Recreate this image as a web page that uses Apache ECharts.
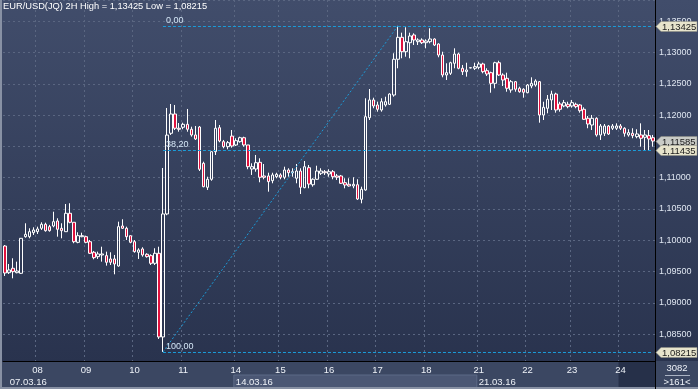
<!DOCTYPE html>
<html><head><meta charset="utf-8">
<script src="https://cdn.jsdelivr.net/npm/echarts@6/dist/echarts.min.js"></script>
<style>html,body{margin:0;padding:0;background:#36425e}#c{width:698px;height:389px}</style>
</head><body><div id="c"></div>
<script>
const chartTitle = 'EUR/USD(JQ) 2H High = 1,13425 Low = 1,08215';
const dayLabels = ['07','08','09','10','11','14','15','16','17','18','21','22','23','24'];
const dayStarts = [0,8,20,32,44,57,68,80,92,104,117,129,140,152];
const weekLabels = ['07.03.16','14.03.16','21.03.16'];
const weekStarts = [0,57,117];
const totalBars = '3082';

const opens = [1.09908,1.09482,1.09552,1.09482,1.09472,1.10057,1.10057,1.10121,1.10137,1.10191,
1.10255,1.10217,1.10228,1.10308,1.10191,1.10137,1.10431,1.10287,1.09967,1.10057,
1.10057,1.09977,1.09808,1.09738,1.09765,1.09754,1.09701,1.09701,1.09589,1.10228,
1.10191,1.10073,1.09977,1.09808,1.09861,1.09776,1.09754,1.09632,1.09792,1.08455,
1.10420,1.11709,1.12017,1.11789,1.11805,1.11852,1.11773,1.11682,1.11809,1.11229,
1.10846,1.10974,1.11415,1.11798,1.11575,1.11495,1.11664,1.11522,1.11575,1.11638,
1.11522,1.11138,1.11138,1.11245,1.11027,1.11027,1.10952,1.11015,1.11043,1.11006,
1.11122,1.11079,1.10990,1.11106,1.10840,1.11159,1.10887,1.10974,1.11070,1.11095,
1.11059,1.11095,1.11027,1.11027,1.10920,1.10894,1.10867,1.10887,1.10654,1.10803,
1.11958,1.12241,1.12161,1.12081,1.12161,1.12172,1.12320,1.12891,1.13242,1.13012,
1.13156,1.13279,1.13172,1.13199,1.13156,1.13172,1.13215,1.13135,1.12959,1.12640,
1.12667,1.12827,1.12975,1.12747,1.12693,1.12752,1.12747,1.12763,1.12816,1.12709,
1.12677,1.12507,1.12836,1.12640,1.12587,1.12401,1.12533,1.12428,1.12412,1.12357,
1.12464,1.12480,1.12533,1.12001,1.12108,1.12241,1.12336,1.12177,1.12145,1.12172,
1.12145,1.12172,1.12161,1.12092,1.11948,1.11841,1.11948,1.11682,1.11709,1.11825,
1.11789,1.11789,1.11825,1.11789,1.11682,1.11709,1.11655,1.11682,1.11645,1.11671,
1.11638];
const closes = [1.09477,1.09525,1.09498,1.09509,1.10031,1.10095,1.10137,1.10164,1.10180,1.10255,
1.10153,1.10153,1.10297,1.10175,1.10153,1.10431,1.10287,1.09977,1.10073,1.10073,
1.09967,1.09792,1.09722,1.09781,1.09781,1.09648,1.09648,1.09621,1.10217,1.10191,
1.10057,1.09967,1.09818,1.09845,1.09765,1.09738,1.09632,1.09792,1.08455,1.10420,
1.11680,1.12017,1.11789,1.11773,1.11852,1.11773,1.11682,1.11618,1.11134,1.10856,
1.10974,1.11415,1.11789,1.11586,1.11495,1.11559,1.11506,1.11591,1.11638,1.11522,
1.11175,1.11175,1.11239,1.11006,1.11006,1.10936,1.11043,1.11054,1.11006,1.11122,
1.11079,1.11095,1.11106,1.10846,1.11175,1.10898,1.10974,1.11106,1.11106,1.11079,
1.11095,1.11015,1.11006,1.10910,1.10883,1.10867,1.10894,1.10659,1.10814,1.11974,
1.12241,1.12145,1.12092,1.12213,1.12213,1.12336,1.12891,1.13242,1.13012,1.13172,
1.13263,1.13199,1.13199,1.13156,1.13183,1.13215,1.13119,1.12959,1.12640,1.12677,
1.12836,1.12975,1.12747,1.12693,1.12720,1.12757,1.12773,1.12816,1.12693,1.12656,
1.12507,1.12836,1.12640,1.12560,1.12428,1.12533,1.12412,1.12373,1.12364,1.12480,
1.12507,1.12544,1.12001,1.12124,1.12252,1.12336,1.12081,1.12092,1.12198,1.12134,
1.12198,1.12134,1.12070,1.11932,1.11857,1.11948,1.11682,1.11825,1.11825,1.11697,
1.11825,1.11825,1.11789,1.11709,1.11719,1.11671,1.11698,1.11629,1.11682,1.11618,
1.11585];
const lows = [1.09429,1.09461,1.09392,1.09472,1.09461,1.10041,1.10031,1.10084,1.10100,1.10164,
1.10137,1.10137,1.10207,1.10057,1.10031,1.10137,1.10271,1.09952,1.09952,1.10048,
1.09952,1.09781,1.09696,1.09701,1.09658,1.09594,1.09605,1.09456,1.09578,1.10180,
1.10004,1.09952,1.09802,1.09701,1.09738,1.09722,1.09605,1.09605,1.08423,1.08215,
1.10400,1.11682,1.11761,1.11734,1.11773,1.11734,1.11655,1.11602,1.11106,1.10846,
1.10803,1.10951,1.11362,1.11565,1.11469,1.11453,1.11479,1.11506,1.11559,1.11495,
1.11134,1.11043,1.11095,1.10926,1.10974,1.10776,1.10910,1.10990,1.10974,1.10974,
1.11015,1.11015,1.10910,1.10739,1.10830,1.10830,1.10856,1.10963,1.11043,1.11043,
1.11015,1.10974,1.10963,1.10899,1.10830,1.10856,1.10830,1.10643,1.10590,1.10792,
1.11921,1.12108,1.12054,1.12054,1.12134,1.12161,1.12293,1.12747,1.12907,1.12932,
1.12907,1.13119,1.13119,1.13135,1.13066,1.13146,1.13103,1.12923,1.12603,1.12560,
1.12640,1.12747,1.12731,1.12640,1.12613,1.12747,1.12720,1.12731,1.12667,1.12624,
1.12357,1.12427,1.12624,1.12464,1.12373,1.12357,1.12373,1.12357,1.12277,1.12348,
1.12428,1.12453,1.11878,1.11921,1.12028,1.12081,1.12038,1.12054,1.12124,1.12108,
1.12118,1.12108,1.12038,1.11921,1.11789,1.11761,1.11655,1.11602,1.11665,1.11682,
1.11761,1.11761,1.11761,1.11655,1.11655,1.11629,1.11629,1.11495,1.11442,1.11431,
1.11495];
const highs = [1.09924,1.09621,1.09712,1.09658,1.10036,1.10271,1.10191,1.10207,1.10217,1.10287,
1.10281,1.10246,1.10456,1.10351,1.10271,1.10579,1.10591,1.10287,1.10127,1.10121,
1.10073,1.10004,1.09829,1.09818,1.09897,1.09818,1.09808,1.09765,1.10297,1.10335,
1.10217,1.10073,1.10004,1.09872,1.09888,1.09792,1.09776,1.09872,1.09897,1.11154,
1.12113,1.12177,1.12161,1.11873,1.11878,1.12097,1.11814,1.11825,1.11825,1.11255,
1.11015,1.11415,1.11921,1.11841,1.11602,1.11586,1.11761,1.11629,1.11654,1.11654,
1.11522,1.11229,1.11362,1.11309,1.11218,1.11079,1.11079,1.11079,1.11070,1.11175,
1.11150,1.11150,1.11218,1.11150,1.11266,1.11202,1.10990,1.11191,1.11150,1.11122,
1.11134,1.11122,1.11059,1.11043,1.10990,1.10990,1.11006,1.10974,1.10856,1.12268,
1.12416,1.12277,1.12214,1.12268,1.12293,1.12348,1.12987,1.13425,1.13316,1.13402,
1.13316,1.13306,1.13226,1.13226,1.13210,1.13386,1.13226,1.13146,1.13012,1.12827,
1.12852,1.13066,1.12996,1.12800,1.12836,1.12762,1.12836,1.12852,1.12836,1.12747,
1.12693,1.12852,1.12868,1.12667,1.12677,1.12560,1.12544,1.12453,1.12428,1.12496,
1.12603,1.12571,1.12544,1.12213,1.12320,1.12389,1.12357,1.12213,1.12241,1.12213,
1.12241,1.12198,1.12177,1.12124,1.11985,1.12001,1.11964,1.11857,1.11857,1.11841,
1.11857,1.11868,1.11857,1.11805,1.11773,1.11789,1.11773,1.11868,1.11761,1.11761,
1.11682];

// Fibonacci retracement drawn on the chart
const fibLevels = ['0,00','38,20','100,00'];
const fibValues = [1.13425, 1.11435, 1.08215];
const swingLowIdx = 39, swingHighIdx = 97;
const priceTags = [1.13425, 1.11585, 1.11435, 1.08215];
const priceTagColors = ['#e7e4cc', '#c9cbc6', '#e7e4cc', '#e7e4cc'];

const categories = opens.map((_, i) => {
  let d = 0;
  for (let k = 0; k < dayStarts.length; k++) if (i >= dayStarts[k]) d = k;
  return dayLabels[d];
});
const candles = opens.map((o, i) => [o, closes[i], lows[i], highs[i]]);
const fmt = v => v.toFixed(5).replace('.', ',');
const FONT = '"Liberation Sans", Arial, sans-serif';
const CYAN = '#1b9bd8';

const markData = [];
fibValues.forEach((v, k) => {
  markData.push([
    {coord: [swingLowIdx, v], lineStyle: {color: CYAN, width: 1, type: [3, 2]},
     label: {show: true, position: 'insideStartTop', formatter: fibLevels[k], color: '#d4e6f6',
             fontSize: 9, fontFamily: FONT, distance: [3, 1]}},
    {coord: [opens.length - 1, v]}
  ]);
});
markData.push([
  {coord: [swingLowIdx, fibValues[2]], lineStyle: {color: CYAN, width: 1, type: [2, 2]}, label: {show: false}},
  {coord: [swingHighIdx, fibValues[0]]}
]);

const chart = echarts.init(document.getElementById('c'), null, {renderer: 'canvas'});
const option = {
  animation: false,
  backgroundColor: new echarts.graphic.LinearGradient(0, 0, 0, 1, [
    {offset: 0, color: '#414d6b'}, {offset: 0.93, color: '#29334e'}, {offset: 1, color: '#29334e'}]),
  title: {text: chartTitle, left: 3, top: 2, padding: 0,
    textStyle: {color: '#ffffff', fontSize: 9.3, fontWeight: 'normal', fontFamily: FONT}},
  grid: {left: 3, right: 43, top: 0, bottom: 28, containLabel: false},
  xAxis: [{
    type: 'category', data: categories, boundaryGap: true,
    axisLine: {show: true, lineStyle: {color: '#000', width: 1}},
    axisTick: {show: false},
    axisLabel: {interval: (i) => dayStarts.indexOf(i) > 0, color: '#eef2f8', fontSize: 9.5,
      fontFamily: FONT, margin: 4},
    splitLine: {show: true, interval: (i) => dayStarts.indexOf(i) > 0,
      lineStyle: {color: '#5a6681', type: [2, 3], width: 1}}
  }, {
    type: 'category', data: categories, boundaryGap: true, position: 'bottom', offset: 13,
    axisLine: {show: false}, axisTick: {show: false}, splitLine: {show: false},
    axisLabel: {interval: (i) => weekStarts.indexOf(i) >= 0, align: 'left', color: '#eef2f8',
      fontSize: 9.5, fontFamily: FONT, margin: 3,
      formatter: (val, i) => {const w = weekStarts.indexOf(i); return w > 0 ? weekLabels[w] : (w === 0 ? '\u2002' + weekLabels[0] : '');}}
  }],
  yAxis: {
    type: 'value', position: 'right', scale: true, min: 1.08071, max: 1.13838, splitNumber: 10,
    axisLine: {show: true, lineStyle: {color: '#000', width: 1}},
    axisTick: {show: false},
    axisLabel: {color: '#dfe6f1', fontSize: 9, fontFamily: FONT, margin: 4, formatter: fmt,
      showMinLabel: false, showMaxLabel: false},
    splitLine: {show: true, lineStyle: {color: '#5a6681', type: [2, 3], width: 1}}
  },
  series: [{
    type: 'candlestick', data: candles, barWidth: 3, clip: false,
    itemStyle: {color: 'rgba(0,0,0,0)', color0: '#e0123e', borderColor: '#ffffff', borderColor0: '#ffffff',
      borderWidth: 1},
    markLine: {symbol: 'none', silent: true, animation: false, data: markData}
  }]
};
chart.setOption(option);

// decorations positioned from the axes
const bw = chart.convertToPixel({xAxisIndex: 0}, 1) - chart.convertToPixel({xAxisIndex: 0}, 0);
const edge = i => chart.convertToPixel({xAxisIndex: 0}, i) - bw / 2;
const plotRight = 655, plotBottom = 361;
const graphics = [
  {type: 'rect', z: -1, shape: {x: 0, y: plotBottom, width: 698, height: 389 - plotBottom}, style: {fill: '#3b4762'}},
  {type: 'rect', z: -1, shape: {x: edge(weekStarts[1]), y: 375, width: edge(weekStarts[2]) - edge(weekStarts[1]), height: 14},
    style: {fill: '#4b5774', stroke: '#5d6a86', lineWidth: 1}},
  {type: 'rect', z: -1, shape: {x: edge(dayStarts[dayStarts.length - 1]), y: plotBottom + 1, width: plotRight - edge(dayStarts[dayStarts.length - 1]), height: 389 - plotBottom - 1},
    style: {fill: '#263049'}},
  {type: 'rect', z: -1, shape: {x: 0, y: 0, width: 2, height: 389}, style: {fill: '#8891a4'}},
  {type: 'rect', z: -1, shape: {x: 0, y: 387, width: 698, height: 2}, style: {fill: '#8891a4'}},
  {type: 'rect', z: 5, shape: {x: plotRight, y: 0, width: 1, height: 389}, style: {fill: '#000'}},
  {type: 'text', z: 5, x: 677, y: 368, style: {text: totalBars, fill: '#eef2f8', font: '9.5px ' + FONT, align: 'center', verticalAlign: 'middle'}},
  {type: 'rect', z: 5, shape: {x: 665, y: 375, width: 25, height: 1}, style: {fill: '#aab3c3'}},
  {type: 'text', z: 5, x: 677, y: 382, style: {text: '>' + opens.length + '<', fill: '#eef2f8', font: '9.5px ' + FONT, align: 'center', verticalAlign: 'middle'}}
];
priceTags.forEach((v, k) => {
  const y = Math.round(chart.convertToPixel({yAxisIndex: 0}, v)) + 0.5;
  const c = priceTagColors[k];
  graphics.push({type: 'polygon', z: 20, shape: {points: [[plotRight + 1, y], [plotRight + 6, y - 5], [697, y - 5], [697, y + 5], [plotRight + 6, y + 5]]},
    style: {fill: c, stroke: '#8c8c80', lineWidth: 0.5}});
  graphics.push({type: 'text', z: 21, x: plotRight + 7, y: y + 0.5, style: {text: fmt(v), fill: '#1a1a1a',
    font: '9.5px ' + FONT, verticalAlign: 'middle', align: 'left'}});
});
chart.setOption({graphic: graphics});
</script></body></html>
